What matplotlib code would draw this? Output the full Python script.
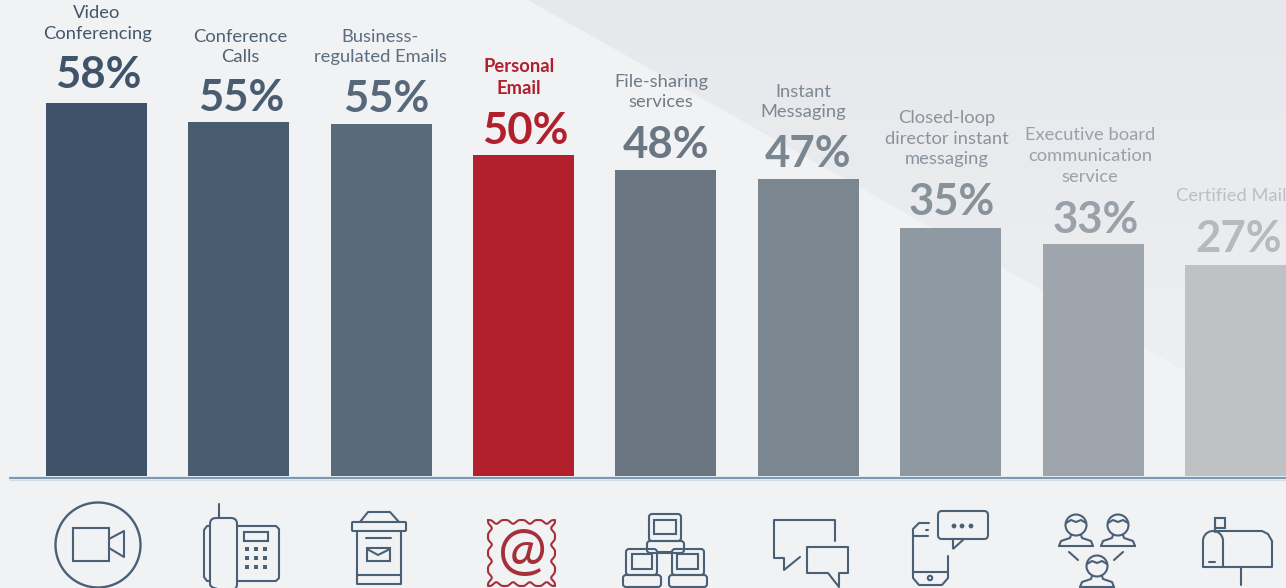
import numpy as np
import matplotlib
matplotlib.use("Agg")
import matplotlib.pyplot as plt
from matplotlib.colors import to_rgba
from matplotlib.patches import Circle, Rectangle, FancyBboxPatch, Polygon, Arc

# Values printed on the chart
labels = ["Video\nConferencing", "Conference\nCalls", "Business-\nregulated Emails", "Personal\nEmail",
          "File-sharing\nservices", "Instant\nMessaging", "Closed-loop\ndirector instant\nmessaging",
          "Executive board\ncommunication\nservice", "Certified Mail"]
values = [58, 55, 55, 50, 48, 47, 35, 33, 27]
# the bars in the picture are not quite to scale, so their drawn lengths are read separately
bar_lengths = [58.0, 55.0, 54.8, 50.0, 47.6, 46.2, 38.6, 36.1, 32.8]

bar_colors = ["#3e5369", "#4a5d70", "#596a7a", "#b2202d", "#6a7783", "#7b8790", "#89949e", "#9aa1a9", "#bdc0c3"]
bar_alpha = [1, 1, 1, 1, 1, 1, 0.95, 0.95, 0.95]
value_colors = ["#3f5469", "#4a5d70", "#566879", "#b2202d", "#6a7783", "#7b8790", "#87929b", "#9aa1a9", "#b6babd"]
label_colors = ["#445769", "#4f6173", "#5d6d7d", "#b2202d", "#6f7b87", "#7d8892", "#8b949d", "#9aa1a8", "#bcbfc3"]

# y centre (pixels from top) of each label and value, x centres too
label_x = [97, 240, 380, 519, 661, 803, 947, 1090, 1231]
label_y = [23.5, 47, 47, 77.5, 92, 102, 138.5, 156, 196]
value_x = [98, 241, 386, 525, 666, 808, 952, 1096, 1239]
value_y = [75, 98, 98.5, 131, 145, 154, 202, 220, 239]

W, H = 1286, 588
BG = "#f0f2f4"
ICON = "#4a6076"
RED = "#a5303a"
LW = 1.5

plt.rcParams["font.family"] = ["Lato", "DejaVu Sans"]

fig = plt.figure(figsize=(W / 100, H / 100), dpi=100, facecolor=BG)

# pixel axes for the backdrop, icons and texts
px = fig.add_axes([0, 0, 1, 1], zorder=0)
px.set_xlim(0, W)
px.set_ylim(H, 0)
px.axis("off")

# darker triangle behind the right half, fades out to the bottom right
tri = Polygon([(528, 0), (W, 0), (W, 428)], closed=True, transform=px.transData, facecolor="none", edgecolor="none")
px.add_patch(tri)
yy, xx = np.mgrid[0:1:60j, 0:1:60j]
shade = yy * 0.75
cmap = matplotlib.colors.LinearSegmentedColormap.from_list("tri", ["#e6e8eb", BG])
img = px.imshow(shade, extent=(528, W, 428, 0), cmap=cmap, vmin=0, vmax=1, aspect="auto", zorder=0)
img.set_clip_path(tri)
px.set_xlim(0, W)
px.set_ylim(H, 0)

# chart axes, baseline at y=476 and 6.43 px per percent, bars 142.4 px apart
ax = fig.add_axes([0, 0, 1, 1], zorder=1)
ax.patch.set_alpha(0)
ax.set_xlim(-96.3 / 142.4, (W - 96.3) / 142.4)
ax.set_ylim(-(H - 476) / 6.43, 476 / 6.43)
ax.axis("off")
ax.bar(range(len(values)), bar_lengths, width=101 / 142.4,
       color=[to_rgba(c, a) for c, a in zip(bar_colors, bar_alpha)])

# baseline
px.plot([9, W], [478, 478], color="#7e9ab2", lw=1.6, solid_capstyle="butt", zorder=2)
px.plot([9, W], [479.5, 479.5], color="#d3dde5", lw=0.8, solid_capstyle="butt", zorder=2)

for i in range(len(values)):
    px.text(label_x[i], label_y[i], labels[i], ha="center", va="center", fontsize=13.2, linespacing=1.36,
            color=label_colors[i], fontweight="bold" if i == 3 else "normal", zorder=3)
    px.text(value_x[i], value_y[i], "%d%%" % values[i], ha="center", va="center", fontsize=31.5,
            fontweight="bold", color=value_colors[i], zorder=3)


def line(pts, color=ICON, closed=False, lw=LW):
    pts = list(pts)
    if closed:
        pts.append(pts[0])
    xs, ys = zip(*pts)
    px.plot(xs, ys, color=color, lw=lw, solid_joinstyle="round", solid_capstyle="round", zorder=3)


def box(x0, y0, x1, y1, r=0, color=ICON, lw=LW):
    style = "round,pad=0,rounding_size=%g" % r if r else "square,pad=0"
    px.add_patch(FancyBboxPatch((x0, y0), x1 - x0, y1 - y0, boxstyle=style, fc="none", ec=color, lw=lw, zorder=3))


def dot(x, y, r, color=ICON):
    px.add_patch(Circle((x, y), r, fc=color, ec="none", zorder=3))


def ring(x, y, r, lw=LW):
    px.add_patch(Circle((x, y), r, fc="none", ec=ICON, lw=lw, zorder=3))


# video camera
ring(98, 545, 42.5, lw=1.7)
box(73, 528, 109, 561)
line([(109, 539), (124, 531), (124, 557), (109, 548)])

# desk phone
line([(219, 504), (219, 518)])
box(210, 518, 237, 590, r=6)
line([(210, 526), (207, 526), (204, 530), (204, 577), (207, 581), (210, 581)])
line([(237, 526), (276, 526), (279, 529), (279, 578), (276, 581), (237, 581)])
box(244, 532, 268, 541)
for bx in [247, 256, 265]:
    for by in [549, 558, 567]:
        px.add_patch(Rectangle((bx - 2.3, by - 2.3), 4.6, 4.6, fc=ICON, ec="none", zorder=3))

# post box
line([(360, 522), (368, 512), (390, 512), (399, 522)])
box(352, 522, 406, 531, r=1)
line([(357, 531), (357, 584), (401, 584), (401, 531)])
line([(357, 575), (401, 575)])
line([(366, 538), (391, 538)])
box(367, 548, 390, 561)
line([(367, 549), (378, 555), (390, 549)])

# stamp with @, edge has four round notches on each side
t = np.linspace(0, 1, 160)
wave = 3.8 * np.sin(4 * np.pi * t) ** 4
edge = []
edge += list(zip(488 + 67 * t, 520 + wave))
edge += list(zip(555 - wave, 520 + 66 * t))
edge += list(zip(555 - 67 * t, 586 - wave))
edge += list(zip(488 + wave, 586 - 66 * t))
line(edge, color=RED, closed=True)
px.text(522, 552, "@", ha="center", va="center", fontsize=42, color=RED, zorder=3)

# three computers
for x0, x1, y0, y1, ix0, ix1, iy0, iy1, bx0, bx1 in [
        (649, 681, 514, 541, 654, 676, 520, 534, 647, 684),
        (626, 657, 549, 575, 632, 652, 554, 569, 623, 661),
        (672, 704, 549, 575, 677, 698, 554, 569, 669, 707)]:
    box(x0, y0, x1, y1, r=3)
    box(ix0, iy0, ix1, iy1)
    box(bx0, y1, bx1, y1 + 12, r=3)
line([(657, 552), (672, 552)])

# chat bubbles
line([(835, 541), (835, 520), (774, 520), (774, 558), (784, 558), (784, 570), (800, 557)])
line([(807, 547), (848, 547), (848, 573), (839, 573), (839, 587), (828, 573), (807, 573)], closed=True)

# mobile and speech bubble
line([(929, 523), (919, 523), (913, 529), (913, 578), (919, 585), (942, 585), (948, 578), (948, 556)])
line([(913, 536), (928, 536)])
line([(926, 530), (928, 530)])
line([(913, 572), (948, 572)])
ring(930, 578, 2.2)
box(938, 511, 988, 539, r=4)
px.add_patch(Polygon([(953, 539), (953, 549), (964, 539)], closed=True, fc=BG, ec=ICON, lw=LW, zorder=4))
line([(955, 539), (962, 539)], color=BG, lw=2)
for dx in [954, 962, 971]:
    dot(dx, 526, 2.4)

# three people
for hx, hy in [(1076, 525), (1118, 525), (1097, 566)]:
    ring(hx, hy, 10.5)
    line([(hx - 10, hy - 2), (hx - 5, hy - 5), (hx, hy - 3), (hx + 5, hy - 5), (hx + 10, hy - 2)])
    sy = hy + 21
    line([(hx - 17, sy), (hx - 15, sy - 5), (hx - 6, sy - 8), (hx - 5, sy - 11)])
    line([(hx + 17, sy), (hx + 15, sy - 5), (hx + 6, sy - 8), (hx + 5, sy - 11)])
    line([(hx - 17, sy), (hx + 17, sy)])
line([(1069, 552), (1078, 560)])
line([(1123, 552), (1114, 560)])

# mailbox
px.add_patch(Arc((1213, 541), 20, 20, theta1=180, theta2=360, ec=ICON, lw=LW, zorder=3))
line([(1203, 541), (1203, 567), (1272, 567), (1272, 541), (1268, 534), (1262, 531), (1213, 531)])
line([(1223, 541), (1223, 567)])
line([(1209, 562), (1215, 562)])
box(1215, 518, 1225, 528)
line([(1215, 518), (1215, 532)])
line([(1241, 567), (1241, 585)])

fig.savefig("out.png", dpi=100, facecolor=BG)
